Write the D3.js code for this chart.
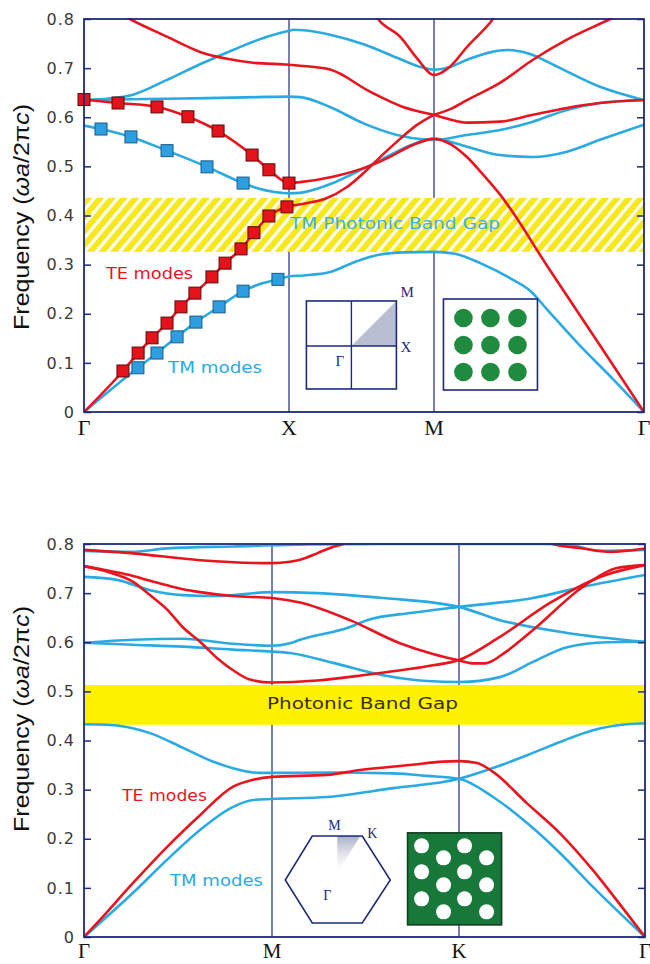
<!DOCTYPE html>
<html><head><meta charset="utf-8">
<script src="https://cdn.jsdelivr.net/npm/d3@7/dist/d3.min.js"></script>
<style>body{margin:0;background:#fff}</style>
</head><body>
<svg id="c" width="650" height="964"></svg>
<script>
// ---------------- data ----------------
const yTicks = [0, 0.1, 0.2, 0.3, 0.4, 0.5, 0.6, 0.7, 0.8];
const yTickLabels = ["0", "0.1", "0.2", "0.3", "0.4", "0.5", "0.6", "0.7", "0.8"];
const sqPoints = ["Γ", "X", "M", "Γ"];
const hexPoints = ["Γ", "M", "K", "Γ"];
const sqGap = [0.326, 0.436];
const hexGap = [0.432, 0.513];

// square lattice of rods — TM (cyan)
const sqTM1 = [[0,0],[0.263,0.09],[0.356,0.12],[0.454,0.153],[0.546,0.183],[0.659,0.214],[0.776,0.246],[0.87,0.262],[0.946,0.27],[1,0.276],[1.1,0.278],[1.283,0.285],[1.45,0.305],[1.62,0.32],[1.8,0.325],[2,0.326],[2.1,0.322],[2.22,0.303],[2.376,0.269],[2.46,0.246],[2.54,0.208],[2.695,0.135],[2.85,0.068],[3,0]];
const sqTM2 = [[0,0.583],[0.083,0.576],[0.229,0.56],[0.405,0.532],[0.6,0.499],[0.776,0.466],[0.85,0.455],[0.93,0.448],[1,0.445],[1.076,0.446],[1.2,0.455],[1.303,0.466],[1.42,0.482],[1.538,0.499],[1.69,0.522],[1.83,0.542],[2,0.556],[2.157,0.54],[2.314,0.523],[2.471,0.519],[2.633,0.53],[2.79,0.554],[3,0.585]];
const sqTM3 = [[0,0.635],[0.3,0.637],[0.6,0.639],[0.85,0.641],[1,0.642],[1.076,0.641],[1.283,0.621],[1.51,0.588],[1.745,0.564],[1.924,0.555],[2,0.554],[2.157,0.564],[2.314,0.574],[2.471,0.591],[2.633,0.615],[2.79,0.629],[3,0.635]];
const sqTM4 = [[0,0.635],[0.12,0.638],[0.239,0.646],[0.405,0.676],[0.566,0.708],[0.727,0.737],[0.893,0.764],[1,0.776],[1.03,0.778],[1.1,0.777],[1.283,0.768],[1.52,0.748],[1.745,0.721],[1.9,0.703],[2,0.697],[2.08,0.703],[2.157,0.717],[2.348,0.737],[2.45,0.73],[2.586,0.703],[2.79,0.662],[3,0.635]];
// square lattice — TE (red)
const sqTE1 = [[0,0],[0.19,0.0835],[0.264,0.12],[0.332,0.151],[0.405,0.181],[0.473,0.214],[0.541,0.242],[0.624,0.275],[0.688,0.303],[0.766,0.332],[0.829,0.365],[0.902,0.399],[0.99,0.4175],[1.1,0.424],[1.25,0.434],[1.4,0.458],[1.538,0.493],[1.65,0.525],[1.766,0.556],[1.88,0.584],[2,0.605]];
const sqTE2 = [[0,0.636],[0.166,0.629],[0.356,0.621],[0.507,0.601],[0.654,0.572],[0.82,0.523],[0.902,0.493],[1,0.466],[1.076,0.468],[1.303,0.479],[1.538,0.499],[1.7,0.52],[1.85,0.543],[2,0.556],[2.08,0.545],[2.157,0.519],[2.22,0.49],[2.314,0.443],[2.55,0.29],[2.79,0.136],[3,0]];
const sqTE3 = [[0.1,0.83],[0.224,0.8],[0.405,0.764],[0.566,0.733],[0.698,0.719],[0.824,0.711],[1,0.707],[1.076,0.705],[1.283,0.697],[1.559,0.652],[1.786,0.621],[2,0.605]];
const sqTE4 = [[2,0.605],[2.08,0.595],[2.157,0.589],[2.314,0.591],[2.471,0.605],[2.633,0.619],[2.79,0.629],[3,0.635]];
const sqTE5 = [[2,0.605],[2.08,0.617],[2.157,0.635],[2.314,0.67],[2.471,0.717],[2.633,0.758],[2.838,0.8],[2.93,0.82]];
const sqTE6 = [[1.55,0.83],[1.614,0.8],[1.766,0.764],[1.883,0.72],[2,0.686],[2.076,0.703],[2.157,0.743],[2.281,0.8],[2.33,0.83]];
// computed-mode markers (square lattice)
const sqTEmarkLow = [[0.19,0.0835],[0.264,0.12],[0.332,0.151],[0.405,0.181],[0.473,0.214],[0.541,0.242],[0.624,0.275],[0.688,0.303],[0.766,0.332],[0.829,0.365],[0.902,0.399],[0.99,0.4175]];
const sqTEmarkHigh = [[0,0.636],[0.166,0.629],[0.356,0.621],[0.507,0.601],[0.654,0.572],[0.82,0.523],[0.902,0.493],[1,0.466]];
const sqTMmarkLow = [[0.263,0.09],[0.356,0.12],[0.454,0.153],[0.546,0.183],[0.659,0.214],[0.776,0.246],[0.946,0.27]];
const sqTMmarkHigh = [[0.083,0.576],[0.229,0.56],[0.405,0.532],[0.6,0.499],[0.776,0.466]];

// triangular lattice of holes — TM (cyan)
const hxTM1 = [[0,0],[0.261,0.09],[0.441,0.157],[0.617,0.218],[0.793,0.265],[0.899,0.279],[1,0.281],[1.294,0.285],[1.647,0.303],[2,0.322],[2.183,0.344],[2.366,0.37],[2.543,0.397],[2.72,0.421],[2.903,0.433],[3,0.435]];
const hxTM2 = [[0,0.433],[0.122,0.432],[0.351,0.415],[0.527,0.385],[0.707,0.354],[0.83,0.34],[0.936,0.334],[1,0.334],[1.31,0.335],[1.647,0.333],[1.829,0.328],[2,0.322],[2.183,0.285],[2.366,0.232],[2.543,0.171],[2.72,0.102],[3,0]];
const hxTM3 = [[0,0.599],[0.261,0.595],[0.527,0.591],[0.793,0.585],[1,0.581],[1.096,0.578],[1.326,0.558],[1.594,0.533],[1.829,0.521],[2,0.519],[2.22,0.529],[2.398,0.56],[2.581,0.59],[2.8,0.6],[3,0.601]];
const hxTM4 = [[0,0.599],[0.261,0.605],[0.527,0.607],[0.793,0.597],[1,0.593],[1.096,0.598],[1.15,0.605],[1.417,0.631],[1.508,0.645],[1.75,0.66],[2,0.672],[2.398,0.69],[2.667,0.713],[3,0.737]];
const hxTM5 = [[0,0.733],[0.176,0.727],[0.351,0.706],[0.527,0.696],[0.707,0.694],[1,0.702],[1.241,0.7],[1.594,0.69],[2,0.672],[2.22,0.645],[2.581,0.619],[3,0.601]];
const hxTM6 = [[0,0.786],[0.261,0.784],[0.441,0.791],[0.793,0.795],[1.2,0.799],[1.6,0.8],[2.45,0.8],[2.6,0.798],[2.75,0.786],[3,0.788]];
// triangular lattice — TE (red)
const hxTE1 = [[0,0],[0.085,0.035],[0.261,0.11],[0.441,0.183],[0.617,0.248],[0.793,0.306],[0.899,0.32],[1,0.326],[1.294,0.33],[1.471,0.34],[1.738,0.35],[1.914,0.357],[2,0.358],[2.097,0.354],[2.183,0.336],[2.366,0.272],[2.543,0.211],[2.72,0.136],[2.86,0.069],[3,0]];
const hxTE2 = [[0,0.755],[0.138,0.745],[0.261,0.735],[0.351,0.725],[0.441,0.716],[0.527,0.708],[0.617,0.702],[0.793,0.694],[1,0.69],[1.15,0.681],[1.417,0.645],[1.684,0.598],[1.861,0.576],[2,0.563],[2.07,0.557],[2.14,0.557],[2.25,0.58],[2.398,0.625],[2.667,0.713],[2.849,0.751],[3,0.757]];
const hxTE3 = [[0,0.755],[0.138,0.742],[0.261,0.723],[0.351,0.696],[0.441,0.667],[0.527,0.63],[0.617,0.601],[0.707,0.568],[0.793,0.543],[0.883,0.524],[1,0.518],[1.241,0.522],[1.508,0.534],[1.861,0.553],[2,0.564],[2.22,0.611],[2.489,0.68],[2.758,0.733],[3,0.757]];
const hxTE4 = [[0,0.788],[0.261,0.781],[0.617,0.767],[1,0.761],[1.096,0.764],[1.15,0.768],[1.241,0.781],[1.31,0.792],[1.38,0.8],[1.45,0.812]];
const hxTE5 = [[2.45,0.815],[2.505,0.8],[2.667,0.791],[2.812,0.784],[3,0.791]];

// ---------------- style ----------------
const RED = "#e8141e", CYAN = "#2aaae2", NAVY = "#1f2a78";
const svg = d3.select("#c");
const defs = svg.append("defs");
const hatch = defs.append("pattern").attr("id","hatch").attr("patternUnits","userSpaceOnUse")
  .attr("width",9).attr("height",9).attr("patternTransform","rotate(40)");
hatch.append("rect").attr("width",9).attr("height",9).attr("fill","#f6e81a");
hatch.append("rect").attr("x",0).attr("width",3.2).attr("height",9).attr("fill","#ffffff");
const grad = defs.append("linearGradient").attr("id","triGrad").attr("x1",0).attr("y1",0).attr("x2",0).attr("y2",1);
grad.append("stop").attr("offset","0%").attr("stop-color","#a6aec8");
grad.append("stop").attr("offset","100%").attr("stop-color","#ffffff").attr("stop-opacity",0.3);

function panel(cfg) {
  const x = d3.scaleLinear().domain([0,1,2,3]).range(cfg.xr);
  const y = d3.scaleLinear().domain([0,0.8]).range(cfg.yr);
  const g = svg.append("g");
  const cid = "clip" + cfg.id;
  defs.append("clipPath").attr("id",cid).append("rect")
    .attr("x",x(0)).attr("y",y(0.8)-1).attr("width",x(3)-x(0)).attr("height",y(0)-y(0.8)+1);
  g.selectAll("line.sym").data([1,2]).enter().append("line")
    .attr("x1",d=>x(d)).attr("x2",d=>x(d)).attr("y1",y(0.8)).attr("y2",y(0))
    .attr("stroke",NAVY).attr("stroke-width",1.2);
  g.append("rect").attr("x",x(0)).attr("width",x(3)-x(0))
    .attr("y",y(cfg.gap[1])).attr("height",y(cfg.gap[0])-y(cfg.gap[1]))
    .attr("fill",cfg.gapFill);
  const line = d3.line().x(d=>x(d[0])).y(d=>y(d[1])).curve(d3.curveMonotoneX);
  const cg = g.append("g").attr("clip-path",`url(#${cid})`);
  cfg.tm.forEach(b=>cg.append("path").attr("d",line(b)).attr("fill","none").attr("stroke",CYAN).attr("stroke-width",2.6));
  cfg.te.forEach(b=>cg.append("path").attr("d",line(b)).attr("fill","none").attr("stroke",RED).attr("stroke-width",2.6));
  (cfg.tmMarks||[]).forEach(m=>g.selectAll(null).data(m).enter().append("rect")
    .attr("x",d=>x(d[0])-6).attr("y",d=>y(d[1])-6).attr("width",12).attr("height",12)
    .attr("fill","#2d9fe0").attr("stroke","#1a5a8c").attr("stroke-width",1));
  (cfg.teMarks||[]).forEach(m=>g.selectAll(null).data(m).enter().append("rect")
    .attr("x",d=>x(d[0])-6).attr("y",d=>y(d[1])-6).attr("width",12).attr("height",12)
    .attr("fill","#e3121b").attr("stroke","#5e0b0b").attr("stroke-width",1));
  g.append("rect").attr("x",x(0)).attr("y",y(0.8)).attr("width",x(3)-x(0)).attr("height",y(0)-y(0.8))
    .attr("fill","none").attr("stroke",NAVY).attr("stroke-width",1.8);
  const ax = g.append("g").attr("transform",`translate(${x(0)},0)`)
    .call(d3.axisLeft(y).tickValues(yTicks).tickSize(-7).tickPadding(9).tickFormat((d,i)=>yTickLabels[i]));
  ax.select(".domain").remove();
  ax.selectAll(".tick line").attr("stroke",NAVY).attr("stroke-width",1.5);
  ax.selectAll(".tick text").attr("font-family","DejaVu Sans").attr("font-size",16)
    .attr("letter-spacing",1).attr("fill","#3a3a3a");
  const axr = g.append("g").attr("transform",`translate(${x(3)},0)`)
    .call(d3.axisRight(y).tickValues(yTicks).tickSize(-7).tickFormat(""));
  axr.select(".domain").remove();
  axr.selectAll(".tick line").attr("stroke",NAVY).attr("stroke-width",1.5);
  g.selectAll("text.kp").data(cfg.kp).enter().append("text")
    .attr("x",(d,i)=>x(i)).attr("y",cfg.kpY).attr("text-anchor","middle")
    .attr("font-family","Liberation Serif").attr("font-size",cfg.kpSize||22).attr("fill","#111").text(d=>d);
  const t = g.append("text").attr("transform",`translate(29,${cfg.titleY}) rotate(-90)`)
    .attr("text-anchor","middle").attr("font-family","Liberation Sans").attr("font-size",22)
    .attr("fill","#111").attr("textLength",226).attr("lengthAdjust","spacingAndGlyphs");
  t.append("tspan").text("Frequency (");
  t.append("tspan").attr("font-style","italic").text("ωa");
  t.append("tspan").text("/2π");
  t.append("tspan").attr("font-style","italic").text("c");
  t.append("tspan").text(")");
  return {x, y, g};
}

function label(g, txt, x0, base, len, color, size) {
  g.append("text").attr("x",x0).attr("y",base).attr("font-family","DejaVu Sans").attr("font-size",size||16)
    .attr("fill",color).attr("textLength",len).attr("lengthAdjust","spacingAndGlyphs").text(txt);
}

// ---------- top panel: square lattice ----------
const P1 = panel({id:1, xr:[84,289,434,644], yr:[412,19], gap:sqGap, gapFill:"url(#hatch)",
  tm:[sqTM1,sqTM2,sqTM3,sqTM4], te:[sqTE1,sqTE2,sqTE3,sqTE4,sqTE5,sqTE6],
  tmMarks:[sqTMmarkLow,sqTMmarkHigh], teMarks:[sqTEmarkLow,sqTEmarkHigh],
  kp:sqPoints, kpY:435, titleY:217});
label(P1.g, "TE modes", 106, 279, 87, RED);
label(P1.g, "TM modes", 168, 373, 94, CYAN);
label(P1.g, "TM Photonic Band Gap", 290, 229, 210, "#3cb2e4", 16);

{
  const ox = P1.x(1.12), oy = P1.y(0.226), s = 90, c = s/2;
  const ig = P1.g.append("g").attr("transform",`translate(${ox},${oy})`);
  ig.append("rect").attr("width",s).attr("height",s-2).attr("fill","#fff");
  ig.append("path").attr("d",`M${c},${c}L${s},${c}L${s},0Z`).attr("fill","#b9bfd2");
  ig.append("rect").attr("width",s).attr("height",s-2).attr("fill","none").attr("stroke",NAVY).attr("stroke-width",1.6);
  ig.append("line").attr("x1",c).attr("x2",c).attr("y1",0).attr("y2",s-2).attr("stroke",NAVY).attr("stroke-width",1.4);
  ig.append("line").attr("x1",0).attr("x2",s).attr("y1",c).attr("y2",c).attr("stroke",NAVY).attr("stroke-width",1.4);
  [["M",s+4,-4],["X",s+4,c+6],["Γ",c-16,c+20]].forEach(([t,x,y])=>ig.append("text").attr("x",x).attr("y",y)
    .attr("font-family","Liberation Serif").attr("font-size",15).attr("fill",NAVY).text(t));
  const lx = P1.x(2.045), ly = P1.y(0.23);
  const lg = P1.g.append("g").attr("transform",`translate(${lx},${ly})`);
  lg.append("rect").attr("width",94).attr("height",91).attr("fill","#fff").attr("stroke",NAVY).attr("stroke-width",1.6);
  const cols = [20,47,74];
  cols.forEach(cx=>cols.forEach(cy=>lg.append("circle").attr("cx",cx).attr("cy",cy-1).attr("r",9.3).attr("fill","#1f8b3e")));
}

// ---------- bottom panel: triangular lattice ----------
const P2 = panel({id:2, xr:[84,272,459,645], yr:[937,544], gap:hexGap, gapFill:"#fff200",
  tm:[hxTM1,hxTM2,hxTM3,hxTM4,hxTM5,hxTM6], te:[hxTE1,hxTE2,hxTE3,hxTE4,hxTE5],
  kp:hexPoints, kpY:958, kpSize:21, titleY:719});
label(P2.g, "TE modes", 122, 801, 85, RED);
label(P2.g, "TM modes", 170, 886, 93, CYAN);
label(P2.g, "Photonic Band Gap", 267, 709, 191, "#3a2e05", 16);

{
  const cx = P2.x(1.349), cy = P2.y(0.116);
  const hg = P2.g.append("g").attr("transform",`translate(${cx},${cy})`);
  const hexPts = [[-25,-44],[25,-44],[53,0],[25,43],[-25,43],[-52,0]];
  hg.append("path").attr("d",`M0,-44L23,-44L0,-7Z`).attr("fill","url(#triGrad)");
  hg.append("path").attr("d","M"+hexPts.map(p=>p.join(",")).join("L")+"Z")
    .attr("fill","none").attr("stroke",NAVY).attr("stroke-width",1.6);
  [["M",-9,-50],["K",30,-42],["Γ",-14,20]].forEach(([t,x,y])=>hg.append("text").attr("x",x).attr("y",y)
    .attr("font-family","Liberation Serif").attr("font-size",14).attr("fill",NAVY).text(t));
  const gx = P2.x(1.725), gy = P2.y(0.212);
  const gg = P2.g.append("g").attr("transform",`translate(${gx},${gy})`);
  gg.append("rect").attr("width",94).attr("height",92).attr("fill","#18783a").attr("stroke","#0f3f20").attr("stroke-width",1.6);
  const rowsY = [13,25,39,52,66,79];
  rowsY.forEach((ry,i)=>{
    const xs = i%2===0 ? [14,57] : [36,79];
    xs.forEach(rx=>gg.append("circle").attr("cx",rx).attr("cy",ry).attr("r",7.5).attr("fill","#fff"));
  });
}
</script>
</body></html>
